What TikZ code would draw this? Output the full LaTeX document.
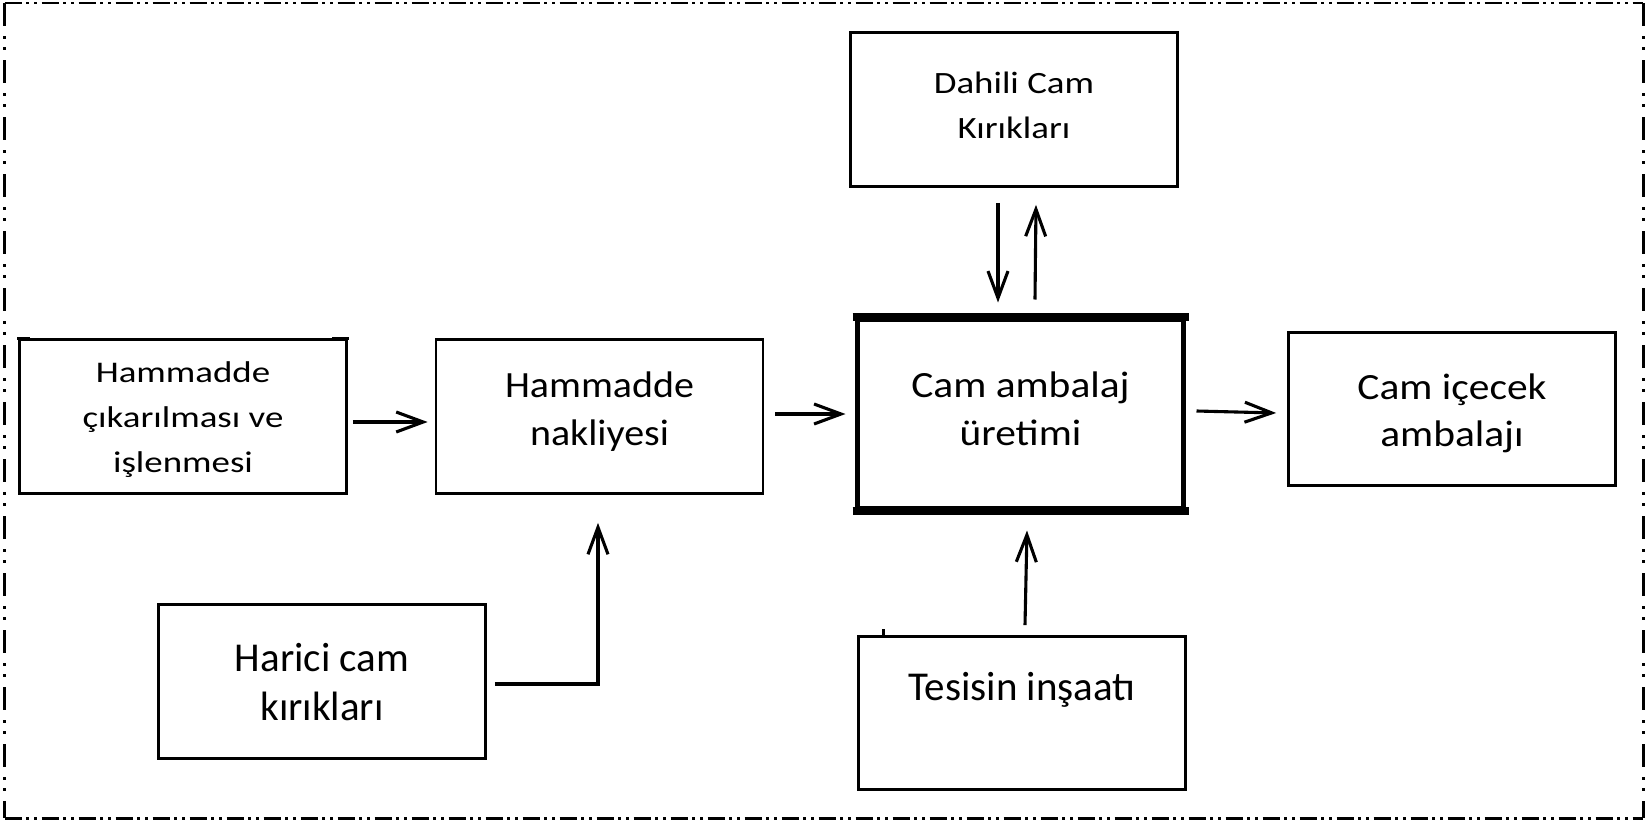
\documentclass[tikz,border=0pt]{standalone}
\usepackage{fontspec}
\usepackage{graphicx}
\setmainfont{Carlito}
\usetikzlibrary{arrows.meta}
\newcommand{\wl}[2]{\strut\scalebox{#1}[1]{#2}}
\begin{document}
\begin{tikzpicture}[x=1pt,y=-1pt,
  box/.style={draw, line width=2.7pt, inner sep=0pt, minimum width=327pt, minimum height=154pt},
  lbl/.style={align=center, inner sep=0pt},
  arr/.style={line width=3.1pt, -{Straight Barb[length=27pt,width=20pt]}},
  hborder/.style={line width=2.7pt, dash pattern=on 17pt off 4.5pt on 3pt off 5pt on 3pt off 4.5pt},
  vborder/.style={line width=2.7pt, dash pattern=on 23pt off 10pt on 3pt off 8pt on 3pt off 10pt},
]
\useasboundingbox (0,0) rectangle (1650,822);
% frame
\coordinate (fTL) at (4.7,3);
\coordinate (fTR) at (1643.3,3);
\coordinate (fBL) at (4.7,818.3);
\coordinate (fBR) at (1643.3,818.3);
\draw[hborder] (fTL) -- (fTR);
\draw[hborder] (fBL) -- (fBR);
\draw[vborder] (fTL) -- (fBL);
\draw[vborder] (fTR) -- (fBR);

% boxes
\node[box] (b1) at (183,416.5) {};
\node[box] (b2) at (599.5,416.5) {};
\node[draw, line width=5pt, inner sep=0pt, minimum width=326pt, minimum height=189pt] (b3) at (1020.5,413.5) {};
\draw[line width=8pt] ([xshift=-2.5pt]b3.north west) -- ([xshift=2.5pt]b3.north east);
\draw[line width=8pt] ([xshift=-2.5pt]b3.south west) -- ([xshift=2.5pt]b3.south east);
\node[box, minimum height=153pt] (b4) at (1452,409) {};
\node[box] (b5) at (1014,109.5) {};
\node[box] (b6) at (322,681.5) {};
\node[box, minimum height=153pt] (b7) at (1022,713) {};

% small artefacts
\fill ([xshift=-1.3pt,yshift=1.3pt]b1.north west) rectangle ++(13,3.5);
\fill ([xshift=1.3pt,yshift=1.3pt]b1.north east) rectangle ++(-17,3.5);
\fill (881.5,629) rectangle (885,635);

% labels
\node[lbl, font=\fontsize{30}{45}\selectfont] (t1) at (183,418)
  {\wl{1.23}{Hammadde}\\\wl{1.23}{çıkarılması ve}\\\wl{1.23}{işlenmesi}};
\node[lbl, font=\fontsize{37}{48}\selectfont] (t2) at (599.5,411.4)
  {\wl{1.08}{Hammadde}\\\wl{1.08}{nakliyesi}};
\node[lbl, font=\fontsize{37}{48}\selectfont] (t3) at (1020.5,411.4)
  {\wl{1.12}{Cam ambalaj}\\\wl{1.12}{üretimi}};
\node[lbl, font=\fontsize{37}{47}\selectfont] (t4) at (1452,414)
  {\wl{1.12}{Cam içecek}\\\wl{1.12}{ambalajı}};
\node[lbl, font=\fontsize{31}{45}\selectfont] (t5) at (1014,106.5)
  {\wl{1.19}{Dahili Cam}\\\wl{1.19}{Kırıkları}};
\node[lbl, font=\fontsize{41}{49}\selectfont] (t6) at (322,685.7)
  {\strut Harici cam\\\strut kırıkları};
\node[lbl, font=\fontsize{41}{49}\selectfont] (t7) at (1022,690.2)
  {\strut Tesisin inşaatı};

% connectors
\draw[arr] ([xshift=5pt,yshift=-5.5pt]b1.east) -- ([xshift=-7pt,yshift=-5.5pt]b2.west);
\draw[arr] ([xshift=11pt,yshift=2.5pt]b2.east) -- ([xshift=-9.5pt,yshift=-0.5pt]b3.west);
\draw[arr] ([xshift=10.5pt,yshift=2.5pt]b3.east) -- ([xshift=-11pt,yshift=-4pt]b4.west);
\draw[arr] ([xshift=-16pt,yshift=-15pt]b5.south) -- ([xshift=-22.5pt,yshift=14pt]b3.north);
\draw[arr] ([xshift=14.5pt,yshift=17pt]b3.north) -- ([xshift=22pt,yshift=-17pt]b5.south);
\draw[arr] ([xshift=3pt,yshift=10pt]b7.north) -- ([xshift=6.5pt,yshift=-20pt]b3.south);
\draw[arr] ([xshift=8pt,yshift=-2.5pt]b6.east) -| ([xshift=-1.5pt,yshift=-28pt]b2.south);
\end{tikzpicture}
\end{document}
